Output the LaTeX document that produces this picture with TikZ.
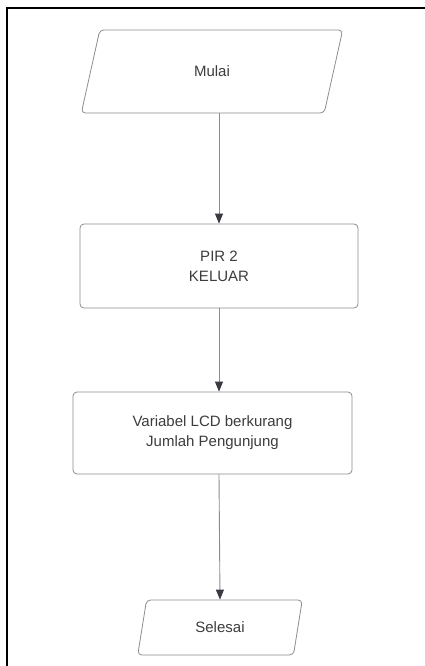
\documentclass[tikz,border=0pt]{standalone}
\usepackage{fontspec}
\setmainfont{Liberation Sans}
\usetikzlibrary{shapes.geometric,arrows.meta}
\definecolor{linegray}{HTML}{8C8C8C}
\definecolor{textgray}{HTML}{3C3C3C}
\definecolor{tipgray}{HTML}{3A3A42}

\begin{document}
\begin{tikzpicture}[x=1pt, y=-1pt, >={Triangle[length=10pt, width=8pt, color=tipgray]}]

\useasboundingbox (0,0) rectangle (425,666);
\draw [line width=2pt] (425,8) -- (7,8) -- (7,666);

\tikzstyle{every node}=[draw=linegray, text=textgray, font=\fontsize{15}{20}\selectfont, align=center, line width=0.8pt, rounded corners=4pt, inner sep=0pt]
\tikzstyle{io}=[trapezium, trapezium left angle=75, trapezium right angle=105, trapezium stretches=true]

\draw (212, 71.5)  node [io, minimum width=262, minimum height=83] (mulai) {Mulai}
      (220, 627.5) node [io, minimum width=165, minimum height=55] (selesai) {Selesai};

\draw (219, 266)   node [minimum width=278, minimum height=84] (pir) {PIR 2\\KELUAR}
      (212.5, 433) node [minimum width=279, minimum height=82] (lcd) {Variabel LCD berkurang\\Jumlah Pengunjung};

\draw [->, draw=linegray, line width=0.9pt] (mulai.south -| pir) -- (pir.north);
\draw [->, draw=linegray, line width=0.9pt] (pir.south) -- (pir.south |- lcd.north);
\draw [->, draw=linegray, line width=0.9pt] (lcd.south -| pir) -- (selesai.north);

\end{tikzpicture}
\end{document}
